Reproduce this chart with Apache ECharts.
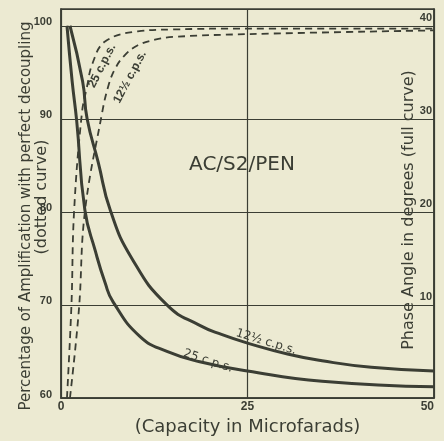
<!DOCTYPE html>
<html>
<head>
<meta charset="utf-8">
<title>AC/S2/PEN decoupling</title>
<script src="https://cdn.jsdelivr.net/npm/echarts@6/dist/echarts.min.js"></script>
<style>
  html, body { margin: 0; padding: 0; background: #ecead2; }
  #chart { width: 444px; height: 441px; }
</style>
</head>
<body>
<div id="chart"></div>
<script>
// capacity (microfarads) vs % amplification, dotted curves
const amp25Cap = [0.8, 1.4, 1.75, 2.8, 3.5, 4.2, 5.9, 10.3, 15, 25, 50];
const amp25Pct = [60, 70, 80, 90.6, 93.5, 95.9, 98.3, 99.4, 99.6, 99.7, 99.7];
const amp12Cap = [1.2, 2.4, 3.2, 5.5, 6.3, 7.2, 8.5, 10.3, 12.6, 15, 25, 50];
const amp12Pct = [60, 69.5, 80, 90.6, 93.4, 95.3, 96.8, 97.9, 98.5, 98.8, 99.1, 99.5];

// capacity vs phase angle (degrees), full curves
const phase25Cap = [0.8, 1.5, 2.1, 3.2, 4.6, 5.9, 7.0, 10.6, 14.2, 18.6, 25, 35, 50];
const phase25Deg = [40, 34, 29.8, 20.2, 15.8, 12.4, 10.3, 6.6, 5.0, 3.9, 2.9, 1.8, 1.2];
const phase12Cap = [1.2, 2.9, 3.5, 5.0, 6.6, 9.5, 14.2, 18.6, 21.6, 25, 30.5, 35, 41.6, 50];
const phase12Deg = [40, 34, 30, 25.3, 20.2, 15, 10, 7.8, 6.8, 5.9, 4.7, 4.0, 3.3, 2.9];

const ink = '#3b3e34';
const paper = '#ecead2';
const font = 'DejaVu Sans';

function pairs(xs, ys) {
  return xs.map((x, i) => [x, ys[i]]);
}

function label(text, x, y, deg, size, extra) {
  return {
    type: 'text', x: x, y: y, rotation: deg * Math.PI / 180,
    style: Object.assign({
      text: text, fill: ink, font: size + 'px "' + font + '"',
      align: 'center', verticalAlign: 'middle'
    }, extra || {})
  };
}

const chart = echarts.init(document.getElementById('chart'));
chart.setOption({
  backgroundColor: paper,
  animation: false,
  grid: {
    left: 61, top: 9, right: 10, bottom: 37,
    show: true, borderColor: ink, borderWidth: 1.5
  },
  xAxis: {
    type: 'value',
    min: 0, max: 50, interval: 25,
    name: '(Capacity in Microfarads)',
    nameLocation: 'middle',
    nameGap: 20,
    nameTextStyle: { color: ink, fontFamily: font, fontSize: 18 },
    axisLine: { lineStyle: { color: ink, width: 1.5 } },
    axisTick: { show: false },
    axisLabel: {
      color: ink, fontFamily: 'Liberation Sans', fontWeight: 'bold', fontSize: 12,
      margin: 3, alignMaxLabel: 'right'
    },
    splitLine: { show: true, lineStyle: { color: ink, width: 1.2 } }
  },
  yAxis: [
    {
      type: 'value',
      min: 60, max: 101.8, interval: 10,
      axisLine: { lineStyle: { color: ink, width: 1.5 } },
      axisTick: { show: false },
      axisLabel: {
        color: ink, fontFamily: 'Liberation Sans', fontWeight: 'bold', fontSize: 11,
        margin: 9, verticalAlign: 'bottom', padding: [0, 0, -2, 0],
        formatter: v => (v % 10 === 0 ? String(v) : '')
      },
      splitLine: { show: true, lineStyle: { color: ink, width: 1.2 } }
    },
    {
      type: 'value',
      position: 'right',
      min: 0, max: 41.8, interval: 10,
      axisLine: { show: true, lineStyle: { color: ink, width: 1.5 } },
      axisTick: { show: false },
      axisLabel: {
        inside: true, align: 'right', verticalAlign: 'bottom',
        margin: 2, padding: [0, 0, 2, 0],
        color: ink, fontFamily: 'Liberation Sans', fontWeight: 'bold', fontSize: 11,
        formatter: v => (v > 0 && v % 10 === 0 ? String(v) : '')
      },
      splitLine: { show: false }
    }
  ],
  graphic: [
    label('Percentage of Amplification with perfect decoupling', 26, 216, 90, 15),
    label('(dotted curve)', 42, 197, 90, 16),
    label('Phase Angle in degrees (full curve)', 409, 210, 90, 16,
      { backgroundColor: paper, padding: [0, 3] }),
    label('AC/S2/PEN', 242, 165, 0, 20),
    label('25 c.p.s.', 102, 66, 63, 11, { fontWeight: 'bold' }),
    label('12½ c.p.s.', 130, 77, 62, 11, { fontWeight: 'bold' }),
    label('12½ c.p.s.', 266, 342, -17, 12),
    label('25 c.p.s.', 208, 361, -18, 12)
  ],
  series: [
    {
      name: 'amp 25', type: 'line', yAxisIndex: 0, z: 1,
      data: pairs(amp25Cap, amp25Pct),
      showSymbol: false, smooth: 0.4,
      lineStyle: { color: ink, width: 1.8, type: [7, 5] }
    },
    {
      name: 'amp 12.5', type: 'line', yAxisIndex: 0, z: 1,
      data: pairs(amp12Cap, amp12Pct),
      showSymbol: false, smooth: 0.4,
      lineStyle: { color: ink, width: 1.8, type: [7, 5] }
    },
    {
      name: 'phase 25', type: 'line', yAxisIndex: 1,
      data: pairs(phase25Cap, phase25Deg),
      showSymbol: false, smooth: 0.5,
      lineStyle: { color: ink, width: 3 }
    },
    {
      name: 'phase 12.5', type: 'line', yAxisIndex: 1,
      data: pairs(phase12Cap, phase12Deg),
      showSymbol: false, smooth: 0.5,
      lineStyle: { color: ink, width: 3 }
    }
  ]
});
</script>
</body>
</html>
